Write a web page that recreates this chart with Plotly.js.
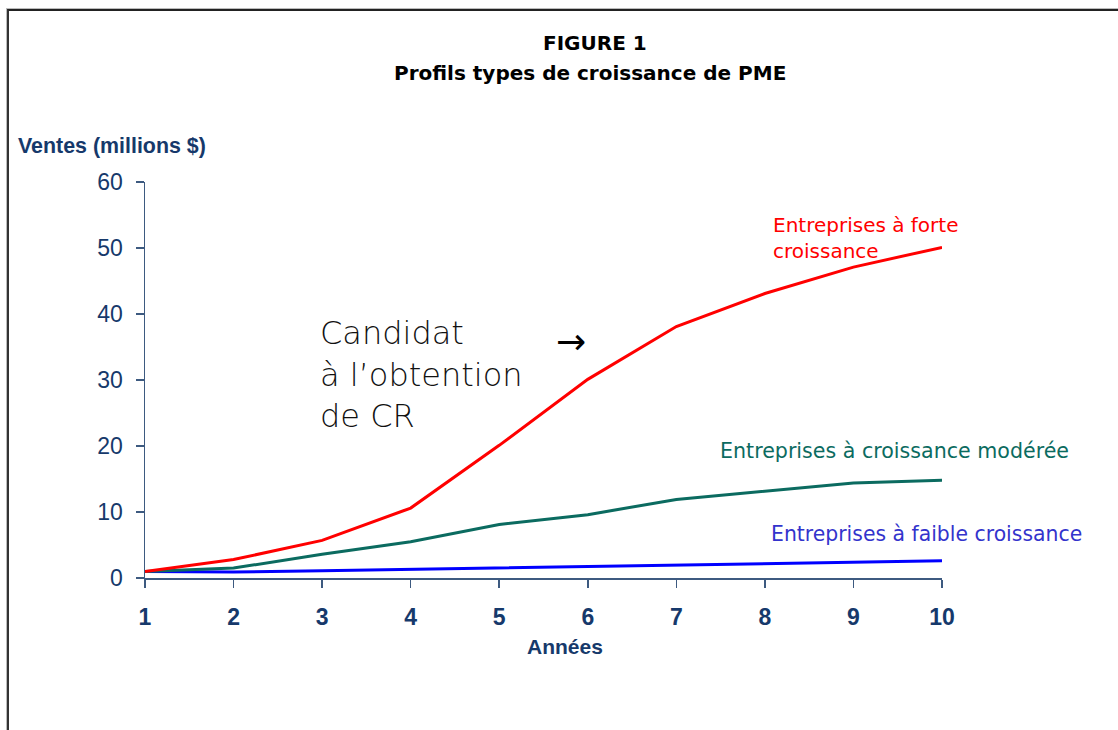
<!DOCTYPE html>
<html>
<head>
<meta charset="utf-8">
<script src="https://cdn.plot.ly/plotly-3.0.1.min.js"></script>
<style>
html,body{margin:0;padding:0;background:#fff;}
#wrap{position:relative;width:1118px;height:730px;overflow:hidden;}
#chart{width:1118px;height:730px;}
#frame{position:absolute;left:7px;top:9px;width:1300px;height:900px;border-left:2px solid #333;border-top:2px solid #222;pointer-events:none;box-shadow:-1px -1px 0 #bbb;}
</style>
</head>
<body>
<div id="wrap"><div id="chart"></div><div id="frame"></div></div>
<script>
const years = [1, 2, 3, 4, 5, 6, 7, 8, 9, 10];
const forte = [1, 2.8, 5.7, 10.6, 20.1, 30.1, 38.1, 43.1, 47.1, 50.1];
const moderee = [1, 1.5, 3.6, 5.5, 8.1, 9.6, 11.9, 13.1, 14.4, 14.8];
const faible = [1, 0.9, 1.1, 1.3, 1.5, 1.8, 1.9, 2.1, 2.3, 2.6];
const seriesNames = ["Entreprises à forte<br>croissance", "Entreprises à croissance modérée", "Entreprises à faible croissance"];
const yTicks = [0, 10, 20, 30, 40, 50, 60];

const navy = '#16396b';
const axisCol = '#3d5a80';
const labelFont = 'Tahoma, "DejaVu Sans", Verdana, sans-serif';
const arial = '"Liberation Sans", Arial, sans-serif';

const traces = [
  {x: years, y: faible, mode: 'lines', line: {color: '#0000ff', width: 3}, name: seriesNames[2]},
  {x: years, y: moderee, mode: 'lines', line: {color: '#0b6b60', width: 3}, name: seriesNames[1]},
  {x: years, y: forte, mode: 'lines', line: {color: '#ff0000', width: 3}, name: seriesNames[0]}
];

const layout = {
  width: 1118, height: 730,
  margin: {l: 145, r: 176, t: 182, b: 152},
  paper_bgcolor: '#fff', plot_bgcolor: '#fff',
  showlegend: false,
  xaxis: {
    range: [1, 10], tickvals: years, ticktext: years.map(String),
    showgrid: false, zeroline: false, showline: true, linecolor: axisCol, linewidth: 1.5,
    ticks: 'outside', ticklen: 8, tickcolor: axisCol, tickwidth: 1.5,
    tickfont: {family: arial, size: 23, color: navy, weight: 'bold'},
    ticklabelstandoff: 10
  },
  yaxis: {
    range: [0, 60], tickvals: yTicks,
    showgrid: false, zeroline: false, showline: true, linecolor: axisCol, linewidth: 1.5,
    ticks: 'outside', ticklen: 8, tickcolor: axisCol, tickwidth: 1.5,
    tickfont: {family: arial, size: 23, color: navy},
    ticklabelstandoff: 8
  },
  annotations: [
    {xref: 'paper', yref: 'paper', x: 0.5645, y: 1.351, xanchor: 'center', yanchor: 'middle', showarrow: false,
     text: '<b>FIGURE 1</b>', font: {family: labelFont, size: 20, color: '#000'}},
    {xref: 'paper', yref: 'paper', x: 0.5585, y: 1.275, xanchor: 'center', yanchor: 'middle', showarrow: false,
     text: '<b>Profils types de croissance de PME</b>', font: {family: labelFont, size: 20, color: '#000'}},
    {xref: 'paper', yref: 'paper', x: -0.1618, y: 1.090, xanchor: 'left', yanchor: 'middle', showarrow: false,
     text: '<b>Ventes (millions $)</b>', font: {family: arial, size: 21.4, color: navy}},
    {xref: 'paper', yref: 'paper', x: 0.5270, y: -0.174, xanchor: 'center', yanchor: 'middle', showarrow: false,
     text: '<b>Années</b>', font: {family: arial, size: 21, color: navy}},
    {xref: 'x', yref: 'y', x: 2.955, y: 30.9, xanchor: 'left', yanchor: 'middle', showarrow: false, align: 'left',
     text: 'Candidat<br>à l\u2019obtention<br>de CR', font: {family: '"DejaVu Sans", sans-serif', size: 32, color: '#111', weight: 300}},
    {xref: 'x', yref: 'y', x: 5.81, y: 35.8, xanchor: 'center', yanchor: 'middle', showarrow: false,
     text: '\u2192', font: {family: '"DejaVu Sans", sans-serif', size: 36, color: '#000'}},
    {xref: 'x', yref: 'y', x: 8.07, y: 51.5, xanchor: 'left', yanchor: 'middle', showarrow: false, align: 'left',
     text: seriesNames[0], font: {family: labelFont, size: 20, color: '#ff0000'}},
    {xref: 'x', yref: 'y', x: 7.47, y: 19.24, xanchor: 'left', yanchor: 'middle', showarrow: false, align: 'left',
     text: seriesNames[1], font: {family: labelFont, size: 20.6, color: '#0b6b60'}},
    {xref: 'x', yref: 'y', x: 8.05, y: 6.67, xanchor: 'left', yanchor: 'middle', showarrow: false, align: 'left',
     text: seriesNames[2], font: {family: labelFont, size: 20.4, color: '#3333cc'}}
  ]
};

Plotly.newPlot('chart', traces, layout, {displayModeBar: false, staticPlot: true});
</script>
</body>
</html>
